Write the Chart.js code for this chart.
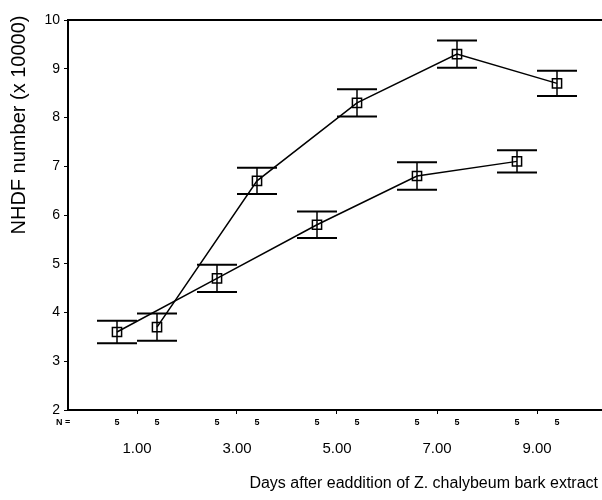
<!DOCTYPE html>
<html>
<head>
<meta charset="utf-8">
<script src="https://cdn.jsdelivr.net/npm/chart.js@4/dist/chart.umd.min.js"></script>
<style>
  html, body { margin: 0; padding: 0; background: #fff; }
  canvas { display: block; }
</style>
</head>
<body>
<canvas id="c" width="602" height="500"></canvas>
<script>
// ---- Data ----
const categories = ['1.00', '3.00', '5.00', '7.00', '9.00'];
const days = [1, 3, 5, 7, 9];
const meansA = [3.6, 4.7, 5.8, 6.8, 7.1];     // left series
const errA   = [0.23, 0.28, 0.27, 0.28, 0.23];
const meansB = [3.7, 6.7, 8.3, 9.3, 8.7];     // right series
const errB   = [0.28, 0.27, 0.28, 0.28, 0.26];
const nA = [5, 5, 5, 5, 5];
const nB = [5, 5, 5, 5, 5];
const yTicks = [2, 3, 4, 5, 6, 7, 8, 9, 10];
const yTitle = 'NHDF number (x 10000)';
const xTitle = 'Days after eaddition of Z. chalybeum bark extract';

const OFFSET = 0.4; // cluster offset in x units
const series = [
  { means: meansA, errs: errA, n: nA, off: -OFFSET },
  { means: meansB, errs: errB, n: nB, off: OFFSET }
];

const datasets = series.map(s => ({
  data: days.map((d, i) => ({ x: d + s.off, y: s.means[i] })),
  showLine: true,
  borderColor: '#000',
  borderWidth: 1.5,
  pointStyle: 'rect',
  pointRadius: 6.5,
  pointBorderWidth: 1.5,
  pointBorderColor: '#000',
  pointBackgroundColor: 'rgba(0,0,0,0)'
}));

const FONT = 'Arial, "Liberation Sans", sans-serif';

const decor = {
  id: 'decor',
  afterDatasetsDraw(chart) {
    const ctx = chart.ctx;
    const { left, top, bottom } = chart.chartArea;
    const xs = chart.scales.x, ys = chart.scales.y;
    ctx.save();
    ctx.strokeStyle = '#000';
    ctx.fillStyle = '#000';
    // top frame line and bottom axis line, both running to the canvas edge
    ctx.lineWidth = 2;
    ctx.beginPath();
    ctx.moveTo(left, top);
    ctx.lineTo(chart.width, top);
    ctx.moveTo(left, bottom);
    ctx.lineTo(chart.width, bottom);
    ctx.stroke();
    // error bars
    series.forEach(s => {
      days.forEach((d, i) => {
        const x = xs.getPixelForValue(d + s.off);
        const yT = ys.getPixelForValue(s.means[i] + s.errs[i]);
        const yB = ys.getPixelForValue(s.means[i] - s.errs[i]);
        ctx.lineWidth = 1.5;
        ctx.beginPath();
        ctx.moveTo(x, yT); ctx.lineTo(x, yB);
        ctx.stroke();
        ctx.lineWidth = 2;
        ctx.beginPath();
        ctx.moveTo(x - 20, yT); ctx.lineTo(x + 20, yT);
        ctx.moveTo(x - 20, yB); ctx.lineTo(x + 20, yB);
        ctx.stroke();
      });
    });
    // N row
    ctx.font = 'bold 9px ' + FONT;
    ctx.textBaseline = 'middle';
    ctx.textAlign = 'left';
    ctx.fillText('N =', 56, bottom + 13);
    ctx.textAlign = 'center';
    series.forEach(s => {
      days.forEach((d, i) => {
        ctx.fillText(String(s.n[i]), xs.getPixelForValue(d + s.off), bottom + 13);
      });
    });
    // Y title
    ctx.save();
    ctx.font = '20px ' + FONT;
    ctx.translate(19, 125);
    ctx.rotate(-Math.PI / 2);
    ctx.textAlign = 'center';
    ctx.textBaseline = 'middle';
    ctx.fillText(yTitle, 0, 0);
    ctx.restore();
    // X title
    ctx.font = '16px ' + FONT;
    ctx.textAlign = 'right';
    ctx.textBaseline = 'middle';
    ctx.fillText(xTitle, 598, 484);
    ctx.restore();
  }
};

new Chart(document.getElementById('c'), {
  type: 'scatter',
  data: { datasets },
  options: {
    responsive: false,
    animation: false,
    layout: { padding: { top: 20, right: 0, left: 0, bottom: 0 } },
    plugins: { legend: { display: false }, tooltip: { enabled: false } },
    scales: {
      x: {
        type: 'linear',
        min: -0.38,
        max: 10.14,
        border: { display: false },
        grid: { drawOnChartArea: false, tickLength: 4, color: '#000', lineWidth: 1 },
        afterBuildTicks: axis => { axis.ticks = days.map(v => ({ value: v })); },
        ticks: {
          color: '#000',
          padding: 26,
          maxRotation: 0,
          autoSkip: false,
          font: { family: FONT, size: 15 },
          callback: (v) => categories[days.indexOf(v)] ?? ''
        },
        afterFit: s => { s.height = 90; }
      },
      y: {
        min: 2,
        max: 10,
        border: { color: '#000', width: 2 },
        grid: { drawOnChartArea: false, tickLength: 4, color: '#000', lineWidth: 1 },
        afterBuildTicks: axis => { axis.ticks = yTicks.map(v => ({ value: v })); },
        ticks: {
          color: '#000',
          padding: 4,
          font: { family: FONT, size: 14 }
        },
        afterFit: s => { s.width = 68; }
      }
    }
  },
  plugins: [decor]
});
</script>
</body>
</html>
